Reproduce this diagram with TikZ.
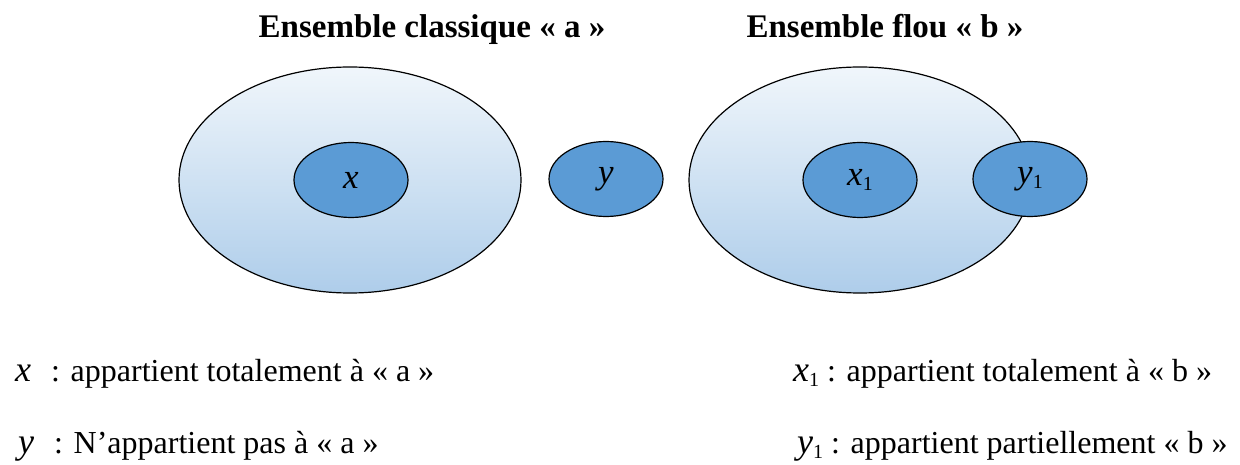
\documentclass[tikz,border=0pt]{standalone}
\usepackage{fontspec}
\setmainfont{Liberation Serif}
\usetikzlibrary{shapes.geometric}
\definecolor{setTop}{HTML}{F0F6FB}
\definecolor{setBot}{HTML}{AECDEA}
\definecolor{elemFill}{HTML}{5B9BD5}
\newcommand{\mvar}[1]{{\fontsize{36}{40}\selectfont\itshape #1}}
\newcommand{\subone}{\raisebox{-0.35ex}{\upshape\fontsize{20}{22}\selectfont 1}}
\tikzset{
  bigset/.style={ellipse, draw=black, line width=1.2pt, top color=setTop, bottom color=setBot, minimum width=342pt, minimum height=226pt, inner sep=0pt},
  elem/.style={ellipse, draw=black, line width=1.2pt, fill=elemFill, minimum width=114pt, minimum height=75pt, inner sep=0pt, font=\fontsize{35}{40}\selectfont\itshape},
  title/.style={font=\fontsize{33}{38}\selectfont\bfseries, inner sep=0pt, anchor=base},
  legend/.style={font=\fontsize{32}{38}\selectfont, inner sep=0pt, anchor=base west}
}
\begin{document}
\begin{tikzpicture}[x=1pt,y=-1pt]
\useasboundingbox (0,0) rectangle (1240,465);
\node[title] (ta) at (432,38) {Ensemble classique « a »};
\node[title] (tb) at (885,38) {Ensemble flou « b »};
\node[bigset] (A) at (350,180) {};
\node[bigset] (B) at (860,180) {};
\node[elem] (x) at (351,180) {x};
\node[elem] (y) at (606,179) {y};
\node[elem] (x1) at (860,180) {x\subone};
\node[elem] (y1) at (1030,179) {y\subone};
\node[legend] (lx) at (15,381) {\mvar{x}\hspace{20pt}: appartient totalement à « a »};
\node[legend] (ly) at (18,453) {\mvar{y}\hspace{20pt}: N’appartient pas à « a »};
\node[legend] (lx1) at (793,381) {\mvar{x}\subone\ : appartient totalement à « b »};
\node[legend] (ly1) at (797,453) {\mvar{y}\subone\ : appartient partiellement « b »};
\end{tikzpicture}
\end{document}
